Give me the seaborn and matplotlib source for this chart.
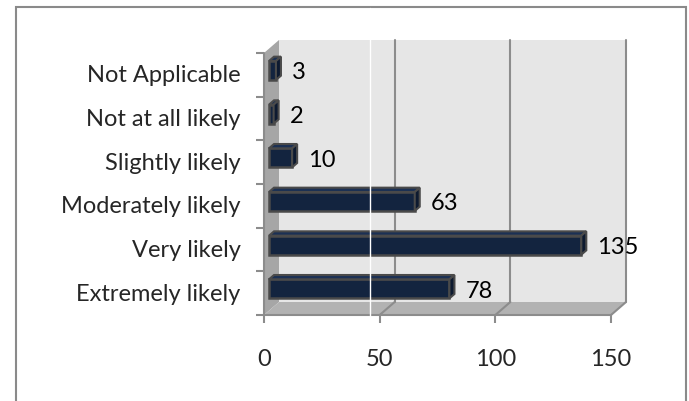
import matplotlib
matplotlib.use("Agg")
import matplotlib.pyplot as plt
import seaborn as sns
from matplotlib.patches import Polygon, Rectangle
from matplotlib.lines import Line2D

# Survey responses
categories = ["Not Applicable", "Not at all likely", "Slightly likely",
              "Moderately likely", "Very likely", "Extremely likely"]
responses = [3, 2, 10, 63, 135, 78]
x_ticks = [0, 50, 100, 150]

sns.set_theme(style="white")
plt.rcParams['font.family'] = ['Lato', 'DejaVu Sans']

W, H = 689, 402
fig = plt.figure(figsize=(W / 100, H / 100), dpi=100)
fig.patch.set_facecolor("white")


def fx(px):
    return px / W


def fy(py):
    return 1 - py / H


# front plane: x 0..150 spans pixels 264..611, six category bands of ~43.7 px
left_px, right_px, top_px, bot_px = 264, 632, 40, 316
px_per_unit = (611 - 264) / 150
band_px = (316 - 54) / 6
ax = fig.add_axes([fx(left_px), fy(bot_px), (right_px - left_px) / W, (bot_px - top_px) / H])

PX = 1 / px_per_unit      # data units per pixel, horizontal
PY = 1 / band_px          # data units per pixel, vertical (axis inverted)
DX, DY = 15 * PX, -13 * PY  # depth of the 3-D box

navy = "#13243f"
edge = "#4a4a4a"
wall_back = "#e6e6e6"
wall_side = "#a6a6a6"
floor_c = "#b2b2b2"
grid_c = "#8c8c8c"
FS = 17

n = len(categories)
ylo, yhi = -0.5, n - 0.5

# walls
ax.add_patch(Rectangle((DX, ylo + DY), 150, n, facecolor=wall_back, edgecolor="none", zorder=0.2, clip_on=False))
ax.add_patch(Polygon([(0, ylo), (DX, ylo + DY), (DX, yhi + DY), (0, yhi)],
                     facecolor=wall_side, edgecolor="none", zorder=0.3, clip_on=False))
ax.add_patch(Polygon([(0, yhi), (DX, yhi + DY), (150 + DX, yhi + DY), (150, yhi)],
                     facecolor=floor_c, edgecolor="none", zorder=0.3, clip_on=False))

# gridlines on back wall and floor
for t in x_ticks[1:]:
    ax.plot([t + DX, t + DX], [ylo + DY, yhi + DY], color=grid_c, lw=1.5, zorder=0.4, clip_on=False)
    ax.plot([t, t + DX], [yhi, yhi + DY], color=grid_c, lw=1.5, zorder=0.4, clip_on=False)

# front axis lines
ax.plot([0, 0], [ylo, yhi], color=grid_c, lw=1.5, zorder=0.5, clip_on=False)
ax.plot([0, 150], [yhi, yhi], color=grid_c, lw=1.5, zorder=0.5, clip_on=False)

# bars (front faces)
sns.barplot(x=responses, y=categories, orient="h", order=categories, width=0.435,
            color=navy, saturation=1, edgecolor=edge, linewidth=1.8, ax=ax, zorder=2)

fx_off, fy_off = DX / 3, DY / 3   # bars sit a third of the way into the box
for p in ax.patches:
    if p.get_zorder() != 2:
        continue
    p.set_x(p.get_x() + fx_off)
    p.set_y(p.get_y() + fy_off)
    x0, y0 = p.get_x(), p.get_y()
    x1, y1 = x0 + p.get_width(), y0 + p.get_height()
    ytop, ybot = min(y0, y1), max(y0, y1)
    d, e = DX / 3, DY / 3
    ax.add_patch(Polygon([(x0, ytop), (x0 + d, ytop + e), (x1 + d, ytop + e), (x1, ytop)],
                         facecolor="#1b3054", edgecolor=edge, lw=1.5, zorder=2.1, clip_on=False))
    ax.add_patch(Polygon([(x1, ytop), (x1 + d, ytop + e), (x1 + d, ybot + e), (x1, ybot)],
                         facecolor="#0d1a30", edgecolor=edge, lw=1.5, zorder=2.1, clip_on=False))

# value labels
for i, v in enumerate(responses):
    ax.annotate(str(v), (v, i), xytext=(21 * 0.72, 3 * 0.72), textcoords="offset points",
                ha="left", va="center", fontsize=FS, color="black", zorder=3)

ax.set_xlim(0, (right_px - left_px) * PX)
ax.set_ylim(yhi, -0.5 - (54 - top_px) * PY)
for s in ax.spines.values():
    s.set_visible(False)
ax.set_facecolor("none")
ax.set_xlabel("")
ax.set_ylabel("")

ax.set_xticks(x_ticks)
ax.set_xticklabels([str(t) for t in x_ticks])
ax.set_yticks(range(n))
ax.set_yticklabels(categories)
ax.set_yticks([k - 0.5 for k in range(n + 1)], minor=True)
ax.tick_params(axis="x", which="major", direction="out", length=6, width=1.5, color=grid_c,
               pad=18, labelsize=FS, bottom=True)
ax.tick_params(axis="y", which="major", length=0, pad=17, labelsize=FS, left=True)
ax.tick_params(axis="y", which="minor", direction="out", length=6, width=1.5, color=grid_c, left=True)
for lbl in ax.get_yticklabels():
    lbl.set_y(lbl.get_position()[1])
    lbl.set_transform(lbl.get_transform() + matplotlib.transforms.ScaledTranslation(0, 2 / 100, fig.dpi_scale_trans))

# chart frame
fig.add_artist(Rectangle((fx(15.5), fy(420)), (685.5 - 15.5) / W, (420 - 7.5) / H,
                         transform=fig.transFigure, fill=False, edgecolor="#8a8a8a", lw=1.5))
# thin white rule through the plot area
fig.add_artist(Line2D([fx(369.5), fx(369.5)], [fy(318), fy(9)], transform=fig.transFigure,
                      color="white", lw=1, zorder=10))

fig.savefig("out.png", dpi=100)
